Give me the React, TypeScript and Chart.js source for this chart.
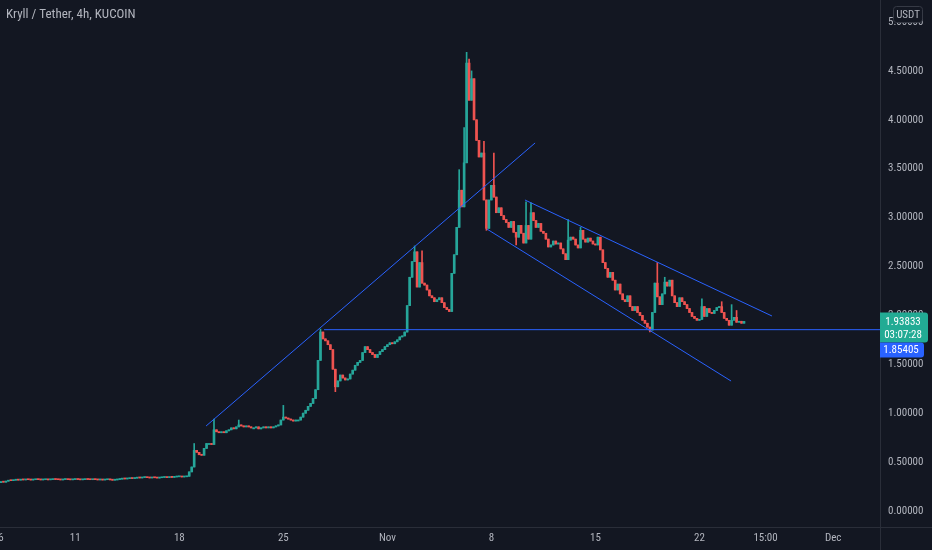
import React, { useEffect, useRef } from 'react';
import { Chart, registerables } from 'chart.js';

Chart.register(...registerables);

// ---------- data ----------
const title = 'Kryll / Tether, 4h, KUCOIN';
const quoteCurrency = 'USDT';
const candlesPerDay = 6; // 4h candles, day 0 = Oct 6
const firstOpen = 0.3;

// closing prices of each 4h candle (6 per day, Oct 6 .. Nov 25)
const closes: number[] = [
  0.300, 0.295, 0.305, 0.312, 0.310, 0.315,
  0.318, 0.316, 0.320, 0.318, 0.322, 0.320,
  0.317, 0.320, 0.324, 0.321, 0.318, 0.320,
  0.322, 0.319, 0.321, 0.325, 0.322, 0.320,
  0.318, 0.322, 0.325, 0.321, 0.319, 0.322,
  0.324, 0.322, 0.319, 0.321, 0.325, 0.322,
  0.320, 0.323, 0.321, 0.318, 0.320, 0.317,
  0.320, 0.322, 0.319, 0.315, 0.318, 0.322,
  0.326, 0.330, 0.328, 0.331, 0.333, 0.332,
  0.336, 0.340, 0.338, 0.342, 0.345, 0.341,
  0.338, 0.342, 0.340, 0.337, 0.340, 0.343,
  0.345, 0.342, 0.346, 0.344, 0.348, 0.350,
  0.352, 0.348, 0.350, 0.355, 0.400, 0.450,
  0.620, 0.600, 0.575, 0.570, 0.640, 0.690,
  0.690, 0.680, 0.830, 0.810, 0.800, 0.810,
  0.800, 0.820, 0.830, 0.850, 0.840, 0.860,
  0.880, 0.870, 0.860, 0.870, 0.860, 0.850,
  0.850, 0.860, 0.840, 0.850, 0.860, 0.850,
  0.860, 0.850, 0.860, 0.870, 0.880, 0.930,
  0.960, 0.950, 0.940, 0.930, 0.920, 0.930,
  0.930, 0.960, 1.000, 1.030, 1.070, 1.100,
  1.150, 1.240, 1.540, 1.830, 1.760, 1.740,
  1.700, 1.650, 1.450, 1.270, 1.330, 1.390,
  1.360, 1.340, 1.350, 1.400, 1.440, 1.490,
  1.520, 1.540, 1.620, 1.680, 1.650, 1.620,
  1.600, 1.570, 1.600, 1.630, 1.650, 1.680,
  1.700, 1.720, 1.710, 1.730, 1.750, 1.780,
  1.790, 1.830, 2.100, 2.390, 2.550, 2.650,
  2.290, 2.540, 2.330, 2.310, 2.260, 2.200,
  2.180, 2.140, 2.160, 2.180, 2.130, 2.080,
  2.060, 2.040, 2.430, 2.620, 2.900, 3.280,
  3.110, 3.560, 4.580, 4.200, 4.420, 4.000,
  3.790, 3.620, 3.660, 3.180, 2.890, 3.180,
  3.330, 3.210, 3.050, 3.100, 3.020, 2.980,
  2.950, 2.900, 2.960, 2.850, 2.800, 2.920,
  2.840, 2.740, 2.920, 2.780, 3.050, 2.970,
  2.900, 2.940, 2.860, 2.840, 2.780, 2.700,
  2.720, 2.760, 2.730, 2.740, 2.680, 2.630,
  2.570, 2.770, 2.800, 2.780, 2.720, 2.690,
  2.870, 2.780, 2.750, 2.790, 2.760, 2.730,
  2.720, 2.800, 2.670, 2.540, 2.480, 2.390,
  2.440, 2.360, 2.260, 2.320, 2.220, 2.160,
  2.140, 2.200, 2.090, 2.050, 2.090, 2.030,
  2.000, 1.950, 1.920, 1.880, 1.850, 2.030,
  2.330, 2.190, 2.110, 2.220, 2.340, 2.300,
  2.360, 2.200, 2.130, 2.090, 2.180, 2.140,
  2.110, 2.070, 2.030, 1.990, 1.970, 1.950,
  1.960, 2.090, 1.990, 2.070, 2.030, 2.020,
  2.050, 2.080, 2.090, 2.030, 1.970, 1.950,
  1.900, 1.950, 1.980, 1.930, 1.940, 1.920,
  1.93833,
];

// notable wick extremes: [candle index, price]
const wickHighs: [number, number][] = [
  [78, 0.69], [86, 0.94], [96, 0.93], [114, 1.08], [129, 1.86],
  [167, 2.71], [170, 2.66], [185, 3.49], [187, 3.92], [188, 4.69],
  [189, 4.62], [190, 4.5], [195, 3.78], [199, 3.66], [212, 3.16],
  [214, 3.15], [229, 2.98], [234, 2.9], [265, 2.54], [268, 2.39],
  [283, 2.17], [291, 2.14], [295, 2.11], [297, 2.05],
];
const wickLows: [number, number][] = [
  [135, 1.22], [196, 2.87], [208, 2.72], [262, 1.83],
];

// drawn trend lines: [startDay, startPrice, endDay, endPrice]
const risingLine = [13.8, 0.869, 35.94, 3.763];
const channelUpper = [35.26, 3.18, 51.88, 1.994];
const channelLower = [32.7, 2.883, 49.13, 1.329];
const levelPrice = 1.85405;
const levelStartDay = 21.74;

const lastPrice = 1.93833;
const countdown = '03:07:28';

const xTickDays = [0, 5, 12, 19, 26, 33, 40, 47, 51.45, 56];
const xTickLabels = ['6', '11', '18', '25', 'Nov', '8', '15', '22', '15:00', 'Dec'];
const yTickValues = [0, 0.5, 1, 1.5, 2, 2.5, 3, 3.5, 4, 4.5, 5];

// ---------- style ----------
const BG = '#131722';
const UP = '#26a69a';
const DOWN = '#ef5350';
const LINE = '#2962ff';
const TEXT = '#b2b5be';
const BORDER = '#2a2e39';
const FONT = '"Liberation Sans Narrow", "Roboto Condensed", "Liberation Sans", Arial, sans-serif';

const X_MIN = -0.0673;
const X_MAX = 59.152;
const Y_MIN = -0.1636;
const Y_MAX = 5.2249;

export default function App() {
  const ref = useRef<HTMLCanvasElement>(null);

  useEffect(() => {
    document.body.style.margin = '0';
    document.body.style.background = BG;
    const canvas = ref.current!;

    const opens = closes.map((c, i) => (i === 0 ? firstOpen : closes[i - 1]));
    const highs = closes.map((c, i) => Math.max(c, opens[i]));
    const lows = closes.map((c, i) => Math.min(c, opens[i]));
    wickHighs.forEach(([i, v]) => { highs[i] = Math.max(highs[i], v); });
    wickLows.forEach(([i, v]) => { lows[i] = Math.min(lows[i], v); });
    const colors = closes.map((c, i) => (c >= opens[i] ? UP : DOWN));
    const xs = closes.map((_, i) => i / candlesPerDay);

    const seg = (l: number[]) => [ { x: l[0], y: l[1] }, { x: l[2], y: l[3] } ];
    const lineDs = (data: any[]) => ({
      type: 'line' as const,
      data,
      borderColor: LINE,
      borderWidth: 1,
      pointRadius: 0,
      fill: false,
      tension: 0,
      order: 0,
    });

    const decor = {
      id: 'decor',
      beforeDraw(chart: any) {
        const { ctx } = chart;
        ctx.save();
        ctx.fillStyle = BG;
        ctx.fillRect(0, 0, chart.width, chart.height);
        ctx.restore();
      },
      afterDraw(chart: any) {
        const { ctx, chartArea } = chart;
        const yScale = chart.scales.y;
        ctx.save();
        // axis borders
        ctx.strokeStyle = BORDER;
        ctx.lineWidth = 1;
        ctx.beginPath();
        ctx.moveTo(Math.round(chartArea.right) + 0.5, 0);
        ctx.lineTo(Math.round(chartArea.right) + 0.5, chart.height);
        ctx.moveTo(0, Math.round(chartArea.bottom) + 0.5);
        ctx.lineTo(chart.width, Math.round(chartArea.bottom) + 0.5);
        ctx.stroke();

        // title
        ctx.fillStyle = TEXT;
        ctx.font = `13px ${FONT}`;
        ctx.textAlign = 'left';
        ctx.textBaseline = 'middle';
        ctx.fillText(title, 6, 15);

        // currency box
        const rr = (x: number, y: number, w: number, h: number, r: number) => {
          ctx.beginPath();
          if (ctx.roundRect) ctx.roundRect(x, y, w, h, r); else ctx.rect(x, y, w, h);
        };
        rr(893.5, 6.5, 29, 16, 3);
        ctx.fillStyle = BG;
        ctx.fill();
        ctx.strokeStyle = '#363a45';
        ctx.stroke();
        ctx.fillStyle = TEXT;
        ctx.font = `11px ${FONT}`;
        ctx.textAlign = 'center';
        ctx.fillText(quoteCurrency, 908, 15);

        // last price label
        const ax = chartArea.right;
        const py = yScale.getPixelForValue(lastPrice);
        rr(ax, py - 9, 48, 30, [0, 3, 3, 0]);
        ctx.fillStyle = '#22ab94';
        ctx.fill();
        ctx.fillStyle = '#ffffff';
        ctx.font = `11px ${FONT}`;
        ctx.fillText(lastPrice.toFixed(5), ax + 23, py + 1);
        ctx.fillText(countdown, ax + 23, py + 14);

        // level label
        rr(ax, py + 21, 44, 15, [0, 3, 3, 0]);
        ctx.fillStyle = LINE;
        ctx.fill();
        ctx.fillStyle = '#ffffff';
        ctx.fillText(levelPrice.toFixed(5), ax + 21, py + 28.5);
        ctx.restore();
      },
    };

    const chart = new Chart(canvas, {
      type: 'bar',
      data: {
        datasets: [
          lineDs(seg(risingLine)),
          lineDs(seg(channelUpper)),
          lineDs(seg(channelLower)),
          lineDs([{ x: levelStartDay, y: levelPrice }, { x: X_MAX, y: levelPrice }]),
          {
            type: 'bar' as const,
            data: xs.map((x, i) => ({ x, y: [opens[i], closes[i]] })) as any,
            backgroundColor: colors,
            borderWidth: 0,
            barThickness: 2,
            minBarLength: 1,
            grouped: false,
            order: 1,
          },
          {
            type: 'bar' as const,
            data: xs.map((x, i) => ({ x, y: [lows[i], highs[i]] })) as any,
            backgroundColor: colors,
            borderWidth: 0,
            barThickness: 1,
            grouped: false,
            order: 2,
          },
        ] as any,
      },
      options: {
        responsive: false,
        animation: false,
        devicePixelRatio: 1,
        layout: { padding: 0 },
        plugins: { legend: { display: false }, tooltip: { enabled: false }, title: { display: false } },
        scales: {
          x: {
            type: 'linear',
            min: X_MIN,
            max: X_MAX,
            offset: false,
            grid: { display: false, drawTicks: false },
            border: { display: false },
            afterBuildTicks: (s: any) => { s.ticks = xTickDays.map((v) => ({ value: v })); },
            afterFit: (s: any) => { s.height = 23; s.paddingLeft = 0; s.paddingRight = 0; },
            ticks: {
              autoSkip: false,
              maxRotation: 0,
              color: TEXT,
              padding: 5,
              font: { size: 11, family: FONT },
              callback: (_v: any, i: number) => xTickLabels[i],
            },
          },
          y: {
            type: 'linear',
            position: 'right',
            min: Y_MIN,
            max: Y_MAX,
            grid: { display: false, drawTicks: false },
            border: { display: false },
            afterBuildTicks: (s: any) => { s.ticks = yTickValues.map((v) => ({ value: v })); },
            afterFit: (s: any) => { s.width = 52; s.paddingTop = 0; s.paddingBottom = 0; },
            ticks: {
              color: TEXT,
              padding: 8,
              font: { size: 11, family: FONT },
              callback: (v: any) => Number(v).toFixed(5),
            },
          },
        },
      } as any,
      plugins: [decor],
    });

    return () => chart.destroy();
  }, []);

  return <canvas ref={ref} width={932} height={550} style={{ display: 'block', width: 932, height: 550 }} />;
}
